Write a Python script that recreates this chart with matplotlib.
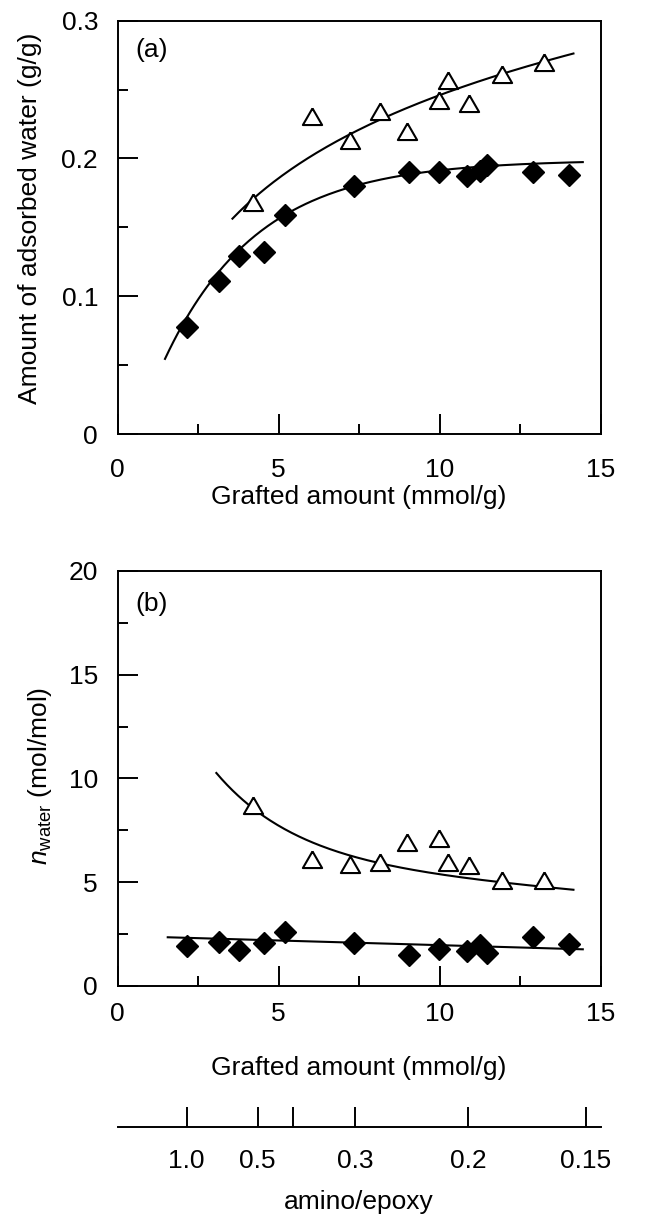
import matplotlib.pyplot as plt
import numpy as np
from matplotlib.ticker import MultipleLocator

plt.rcParams["font.family"] = ["Liberation Sans", "DejaVu Sans"]
plt.rcParams["mathtext.fontset"] = "custom"
plt.rcParams["mathtext.rm"] = "Liberation Sans"
plt.rcParams["mathtext.it"] = "Liberation Sans:italic"
plt.rcParams["font.size"] = 19

# grafted amount (mmol/g) of the two sample series
x_dia = [2.17, 3.15, 3.76, 4.54, 5.21, 7.34, 9.05, 9.97, 10.86, 11.25, 11.48, 12.90, 14.01]
x_tri = [4.21, 6.05, 7.22, 8.15, 9.00, 9.99, 10.26, 10.91, 11.94, 13.23]

# (a) adsorbed water, g/g
water_dia = [0.078, 0.111, 0.129, 0.132, 0.159, 0.180, 0.190, 0.190, 0.187, 0.191, 0.1955, 0.190, 0.188]
water_tri = [0.166, 0.229, 0.211, 0.232, 0.218, 0.240, 0.255, 0.238, 0.259, 0.2675]

# (b) n_water, mol/mol
nwater_dia = [1.92, 2.12, 1.72, 2.05, 2.58, 2.08, 1.48, 1.76, 1.69, 1.97, 1.57, 2.34, 2.00]
nwater_tri = [8.58, 5.95, 5.71, 5.82, 6.78, 6.99, 5.82, 5.66, 4.94, 4.94]

# fitted trend lines: parameters and x ranges
fit_a_dia = dict(A=0.199, k=0.345, x0=0.547, lo=1.475, hi=14.45)
fit_a_tri = dict(a=0.0456, b=0.087, lo=3.57, hi=14.16)
fit_b_tri = dict(A=6.40, B=14.53, k=0.4, C=-0.1285, lo=3.07, hi=14.16)
fit_b_dia = dict(a=2.41, b=-0.045, lo=1.56, hi=14.45)

# amino/epoxy ratio scale, placed at the matching grafted amount
ratio_pos = [2.15, 4.35, 5.44, 7.38, 10.89, 14.54]
ratio_labels = ["1.0", "0.5", "", "0.3", "0.2", "0.15"]

W, H = 667, 1222
fig = plt.figure(figsize=(W / 100, H / 100), dpi=100)


def px_axes(left, top, right, bottom):
    return fig.add_axes([left / W, 1 - bottom / H, (right - left) / W, (bottom - top) / H])


tri_marker = [(0, 1.155), (-1.0, -0.577), (1.0, -0.577), (0, 1.155)]
dia_kw = dict(ls="none", marker="D", ms=11.5, mfc="black", mec="black", zorder=3)
tri_kw = dict(ls="none", marker=tri_marker, ms=16, mfc="white", mec="black", mew=1.5, zorder=3)
line_kw = dict(color="black", lw=1.5, zorder=2)


def style(ax, ymax, ymajor, pad_x):
    ax.set_xlim(0, 15)
    ax.set_ylim(0, ymax)
    ax.xaxis.set_major_locator(MultipleLocator(5))
    ax.xaxis.set_minor_locator(MultipleLocator(2.5))
    ax.yaxis.set_major_locator(MultipleLocator(ymajor))
    ax.yaxis.set_minor_locator(MultipleLocator(ymajor / 2))
    ax.tick_params(which="both", direction="in", width=1.4, top=False, right=False)
    ax.tick_params(which="major", length=14.5)
    ax.tick_params(which="minor", length=7.5)
    ax.tick_params(axis="x", which="major", pad=pad_x)
    ax.tick_params(axis="y", which="major", pad=14)
    for sp in ax.spines.values():
        sp.set_linewidth(1.4)


# (a)
ax1 = px_axes(117.5, 20.7, 600.5, 434)
style(ax1, 0.3, 0.1, 17)
ax1.yaxis.set_major_formatter(lambda v, p: "0" if v == 0 else f"{v:.1f}")
xs = np.linspace(fit_a_dia["lo"], fit_a_dia["hi"], 200)
ax1.plot(xs, fit_a_dia["A"] * (1 - np.exp(-fit_a_dia["k"] * (xs - fit_a_dia["x0"]))), **line_kw)
xs = np.linspace(fit_a_tri["lo"], fit_a_tri["hi"], 200)
ax1.plot(xs, fit_a_tri["a"] + fit_a_tri["b"] * np.log(xs), **line_kw)
ax1.plot(x_dia, water_dia, **dia_kw)
ax1.plot(x_tri, water_tri, **tri_kw)
ax1.text(0.07, 0.93, "(a)", transform=ax1.transAxes, ha="center", va="center")

# (b)
ax2 = px_axes(117.5, 571, 600.5, 985.8)
style(ax2, 20, 5, 12)
xs = np.linspace(fit_b_tri["lo"], fit_b_tri["hi"], 200)
ax2.plot(xs, fit_b_tri["A"] + fit_b_tri["B"] * np.exp(-fit_b_tri["k"] * xs) + fit_b_tri["C"] * xs, **line_kw)
xs = np.linspace(fit_b_dia["lo"], fit_b_dia["hi"], 200)
ax2.plot(xs, fit_b_dia["a"] + fit_b_dia["b"] * xs, **line_kw)
ax2.plot(x_dia, nwater_dia, **dia_kw)
ax2.plot(x_tri, nwater_tri, **tri_kw)
ax2.text(0.07, 0.92, "(b)", transform=ax2.transAxes, ha="center", va="center")

# amino/epoxy scale below panel (b)
ax3 = fig.add_axes([117.5 / W, 1 - 1126.7 / H, 483 / W, 0])
ax3.set_xlim(0, 15)
for side in ("left", "right", "top"):
    ax3.spines[side].set_visible(False)
ax3.spines["bottom"].set_linewidth(1.4)
ax3.set_yticks([])
ax3.set_xticks(ratio_pos)
ax3.set_xticklabels(ratio_labels)
ax3.tick_params(axis="x", direction="in", length=14.5, width=1.4, pad=16)

# axis titles
fig.text(359 / W, 1 - 497 / H, "Grafted amount (mmol/g)", ha="center", va="center")
fig.text(359 / W, 1 - 1068 / H, "Grafted amount (mmol/g)", ha="center", va="center")
fig.text(359 / W, 1 - 1202 / H, "amino/epoxy", ha="center", va="center")
fig.text(30 / W, 1 - 218 / H, "Amount of adsorbed water (g/g)", ha="center", va="center", rotation=90)
fig.text(40 / W, 1 - 776 / H, r"$n_{\mathrm{water}}$ (mol/mol)", ha="center", va="center", rotation=90)

fig.savefig("out.png", dpi=100)
